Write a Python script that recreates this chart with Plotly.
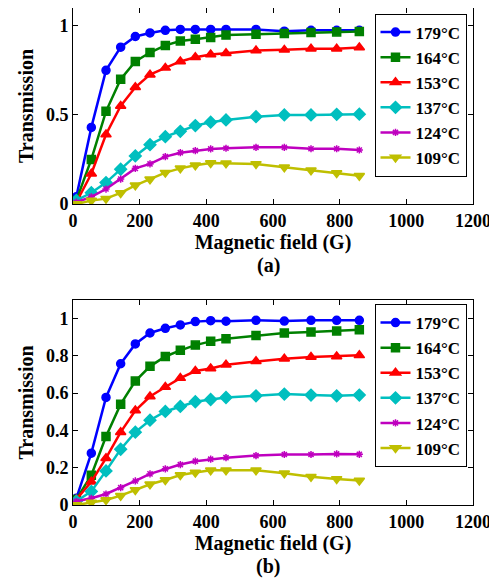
import plotly.graph_objects as go

field = [10, 55, 99, 143, 187, 231, 277, 322, 367, 413, 459, 549, 634, 714, 791, 859]
labels = ["179°C", "164°C", "153°C", "137°C", "124°C", "109°C"]

a_179 = [0.04, 0.43, 0.75, 0.88, 0.94, 0.96, 0.975, 0.98, 0.98, 0.98, 0.98, 0.98, 0.97, 0.975, 0.975, 0.975]
a_164 = [0.02, 0.25, 0.52, 0.70, 0.80, 0.85, 0.89, 0.915, 0.925, 0.935, 0.948, 0.953, 0.957, 0.962, 0.966, 0.968]
a_153 = [0.01, 0.17, 0.39, 0.55, 0.655, 0.726, 0.764, 0.80, 0.824, 0.839, 0.846, 0.861, 0.865, 0.871, 0.871, 0.878]
a_137 = [0.02, 0.063, 0.12, 0.195, 0.27, 0.333, 0.378, 0.408, 0.44, 0.459, 0.472, 0.49, 0.50, 0.50, 0.503, 0.504]
a_124 = [0.01, 0.04, 0.084, 0.14, 0.20, 0.225, 0.266, 0.288, 0.30, 0.309, 0.313, 0.318, 0.318, 0.31, 0.31, 0.303]
a_109 = [0.0, 0.019, 0.03, 0.062, 0.105, 0.139, 0.176, 0.20, 0.217, 0.23, 0.229, 0.225, 0.206, 0.189, 0.174, 0.159]

b_179 = [0.036, 0.278, 0.577, 0.758, 0.864, 0.923, 0.948, 0.966, 0.984, 0.989, 0.986, 0.991, 0.987, 0.991, 0.991, 0.991]
b_164 = [0.03, 0.16, 0.367, 0.541, 0.665, 0.744, 0.797, 0.83, 0.858, 0.878, 0.892, 0.91, 0.923, 0.928, 0.934, 0.941]
b_153 = [0.03, 0.125, 0.251, 0.391, 0.507, 0.582, 0.633, 0.681, 0.719, 0.733, 0.753, 0.771, 0.785, 0.794, 0.797, 0.803]
b_137 = [0.02, 0.073, 0.183, 0.299, 0.391, 0.455, 0.502, 0.529, 0.554, 0.566, 0.577, 0.586, 0.595, 0.59, 0.586, 0.59]
b_124 = [0.02, 0.036, 0.059, 0.093, 0.129, 0.167, 0.194, 0.217, 0.235, 0.246, 0.254, 0.265, 0.271, 0.271, 0.274, 0.272]
b_109 = [0.0, 0.013, 0.027, 0.05, 0.081, 0.111, 0.134, 0.161, 0.174, 0.186, 0.186, 0.186, 0.17, 0.152, 0.14, 0.131]

series_a = [a_179, a_164, a_153, a_137, a_124, a_109]
series_b = [b_179, b_164, b_153, b_137, b_124, b_109]

colors = ["#0000ff", "#008000", "#ff0000", "#00bfbf", "#bf00bf", "#bfbf00"]
symbols = ["circle", "square", "triangle-up", "diamond", "asterisk-open", "triangle-down"]
sizes = [8, 8, 9, 9, 6, 9]

FONT = "Liberation Serif"
fig = go.Figure()

for panel, series in ((1, series_a), (2, series_b)):
    for lab, ys, c, s, sz in zip(labels, series, colors, symbols, sizes):
        fig.add_trace(go.Scatter(
            x=field, y=ys, name=lab, mode="lines+markers",
            line=dict(color=c, width=2.5),
            marker=dict(symbol=s, size=sz, color=c, line=dict(color=c, width=1.5)),
            xaxis="x" if panel == 1 else "x2",
            yaxis="y" if panel == 1 else "y2",
            legend="legend" if panel == 1 else "legend2",
        ))

# page body adds an 8px margin, so the figure is 8px smaller and reference
# pixel coordinates are shifted by 8
OFF = 8
W, H = 497 - OFF, 581 - OFF
L, R, T, B = 73 - OFF, 24, 8 - OFF, 76
PW, PH = W - L - R, H - T - B


def px(xp):
    return (xp - OFF - L) / PW


def py(yp):
    return 1 - (yp - OFF - T) / PH


ax_common = dict(
    showline=True, linecolor="black", linewidth=1, mirror="ticks", automargin=False,
    ticks="inside", ticklen=5, tickcolor="black", showgrid=False, zeroline=False,
    tickfont=dict(family=FONT, size=18, color="black", weight="bold"),
)
xt = dict(text="Magnetic field (G)", font=dict(family=FONT, size=20, color="black", weight="bold"), standoff=4)
yt = dict(text="Transmission", font=dict(family=FONT, size=20, color="black", weight="bold"), standoff=6)

legend_common = dict(
    x=px(420.5), xanchor="center", yanchor="middle",
    bgcolor="white", bordercolor="black", borderwidth=1,
    font=dict(family=FONT, size=17, color="black", weight="bold"),
    traceorder="normal", itemwidth=30,
)

fig.update_layout(
    width=W, height=H, margin=dict(l=L, r=R, t=T, b=B, autoexpand=False),
    paper_bgcolor="white", plot_bgcolor="white",
    font=dict(family=FONT, color="black"),
    xaxis=dict(domain=[0, 1], range=[0, 1200], dtick=200, anchor="y", title=xt, **ax_common),
    yaxis=dict(domain=[py(204), py(8)], range=[0, 1.1], dtick=0.5, anchor="x", title=yt, **ax_common),
    xaxis2=dict(domain=[0, 1], range=[0, 1200], dtick=200, anchor="y2", title=xt, **ax_common),
    yaxis2=dict(domain=[py(505), py(300)], range=[0, 1.1], dtick=0.2, anchor="x2", title=yt, **ax_common),
    legend=dict(y=py(95), **legend_common),
    legend2=dict(y=py(385.5), **legend_common),
    showlegend=True,
    annotations=[
        dict(text="(a)", x=px(268), y=py(265), xref="paper", yref="paper", showarrow=False,
             xanchor="center", yanchor="middle",
             font=dict(family=FONT, size=20, color="black", weight="bold")),
        dict(text="(b)", x=px(268), y=py(566), xref="paper", yref="paper", showarrow=False,
             xanchor="center", yanchor="middle",
             font=dict(family=FONT, size=20, color="black", weight="bold")),
    ],
)

fig.write_html("out.html")
